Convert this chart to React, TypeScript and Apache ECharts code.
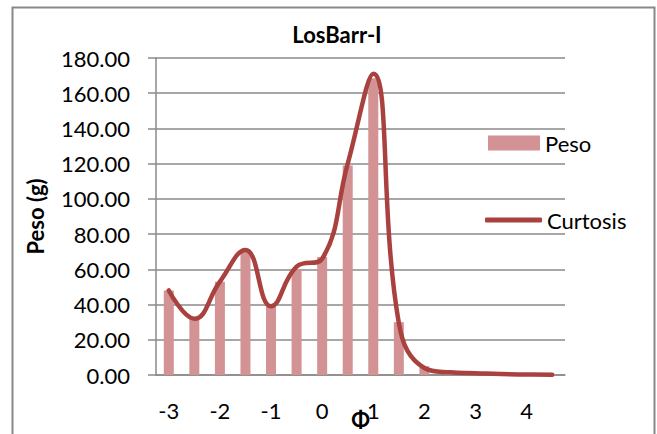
import React, { useEffect, useRef } from "react";
import * as echarts from "echarts";

const categories = ["-3", "-2.5", "-2", "-1.5", "-1", "-0.5", "0", "0.5", "1", "1.5", "2", "2.5", "3", "3.5", "4", "4.5"];
const pesoValues = [48, 32, 53, 70, 39, 60, 67, 119, 168.5, 30, 5, 1.5, 1, 0.5, 0.3, 0.2];
const curtosisValues = [48, 32, 53, 71, 39, 61.5, 66, 120, 171, 29.5, 4, 1.5, 1, 0.5, 0.3, 0.2];
const yTicks = { min: 0, max: 180, interval: 20 };

const FONT = "Lato";
const GRID_COLOR = "#8a8a8a";

export default function App() {
  const ref = useRef<HTMLDivElement>(null);
  useEffect(() => {
    if (!ref.current) return;
    const chart = echarts.init(ref.current, undefined, { renderer: "svg" });
    chart.setOption({
      animation: false,
      backgroundColor: "#ffffff",
      textStyle: { fontFamily: FONT },
      title: {
        text: "LosBarr-I",
        left: 332,
        top: 18,
        textAlign: "center",
        textStyle: { fontFamily: FONT, fontWeight: "bold", fontSize: 22, color: "#000" },
      },
      graphic: [
        {
          type: "rect",
          shape: { x: 12.5, y: 7.5, width: 642, height: 450 },
          style: { fill: "none", stroke: "#888888", lineWidth: 2 },
          silent: true,
        },
      ],
      legend: [
        {
          orient: "vertical",
          left: 483,
          top: 127,
          itemWidth: 52,
          itemHeight: 15,
          itemGap: 0,
          data: [{ name: "Peso", icon: "rect" }],
          textStyle: { fontFamily: FONT, fontSize: 22, color: "#000" },
        },
        {
          orient: "vertical",
          left: 480,
          top: 204,
          itemWidth: 57,
          itemHeight: 5,
          itemGap: 0,
          data: [{ name: "Curtosis", icon: "roundRect" }],
          itemStyle: { color: "#A9423F" },
          textStyle: { fontFamily: FONT, fontSize: 22, color: "#000" },
        },
      ],
      grid: { left: 156, right: 92, top: 58, bottom: 59, containLabel: false, outerBoundsMode: "none" },
      xAxis: {
        type: "category",
        data: categories,
        boundaryGap: true,
        name: "Φ",
        nameLocation: "middle",
        nameGap: 33,
        nameMoveOverlap: false,
        nameTextStyle: { fontFamily: FONT, fontWeight: "bold", fontSize: 22, color: "#000" },
        axisLine: { show: true, lineStyle: { color: GRID_COLOR, width: 1.5 } },
        axisTick: { show: false },
        axisLabel: { interval: 1, margin: 24, fontFamily: FONT, fontSize: 22, color: "#000" },
        splitLine: { show: false },
      },
      yAxis: {
        type: "value",
        min: yTicks.min,
        max: yTicks.max,
        interval: yTicks.interval,
        name: "Peso (g)",
        nameLocation: "middle",
        nameGap: 110,
        nameRotate: 90,
        nameMoveOverlap: false,
        nameTextStyle: { fontFamily: FONT, fontWeight: "bold", fontSize: 22, color: "#000" },
        axisLine: { show: true, lineStyle: { color: GRID_COLOR, width: 1.5 } },
        axisTick: { show: true, length: 8, inside: false, lineStyle: { color: GRID_COLOR, width: 1.5 } },
        axisLabel: {
          margin: 26,
          fontFamily: FONT,
          fontSize: 22,
          color: "#000",
          formatter: (v: number) => v.toFixed(2),
        },
        splitLine: { show: true, lineStyle: { color: GRID_COLOR, width: 1.5 } },
      },
      series: [
        {
          name: "Peso",
          type: "bar",
          data: pesoValues,
          barWidth: 10,
          itemStyle: { color: "#D39293" },
          z: 2,
        },
        {
          name: "Curtosis",
          type: "line",
          data: curtosisValues,
          smooth: 0.45,
          symbol: "none",
          showSymbol: false,
          lineStyle: { color: "#A9423F", width: 4.5, cap: "round", join: "round" },
          itemStyle: { color: "#A9423F" },
          z: 3,
        },
      ],
    });
    return () => chart.dispose();
  }, []);
  return <div ref={ref} style={{ width: 657, height: 434, position: "absolute", left: 0, top: 0 }} />;
}
